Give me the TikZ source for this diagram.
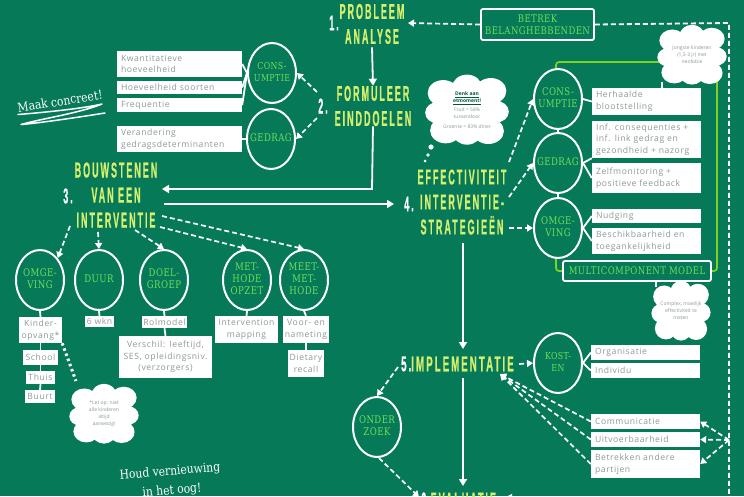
\documentclass[tikz,border=0pt]{standalone}
\usepackage{fontspec}
\usetikzlibrary{arrows.meta,shapes.geometric}
\setmainfont{Open Sans}
\newfontfamily\headf[FakeStretch=0.42,LetterSpace=9,FakeBold=0.6]{Liberation Sans Bold}
\newfontfamily\circf[FakeStretch=0.82,LetterSpace=4]{DejaVu Serif}
\newfontfamily\slabf[FakeStretch=0.86]{DejaVu Serif}
\newfontfamily\boxf[LetterSpace=7]{Open Sans}
\definecolor{bg}{HTML}{067A58}
\definecolor{lime}{HTML}{D4EE6E}
\definecolor{cgreen}{HTML}{6FDD5A}
\definecolor{boxtxt}{HTML}{8C9A96}
\definecolor{wire}{HTML}{7ED321}
\tikzset{x=1pt,y=-1pt,
 head/.style={text=lime,font=\headf\fontsize{21.5}{25}\selectfont,align=center,inner sep=0},
 numb/.style={text=white,font=\headf\fontsize{21.5}{25}\selectfont,inner sep=0},
 ring/.style={draw=white,line width=2pt,ellipse,fill=bg,text=cgreen,font=\circf\fontsize{10.5}{12.3}\selectfont,inner sep=0,minimum width=48pt,minimum height=60pt},
 bx/.style={fill=white,text=boxtxt,font=\boxf\fontsize{8.6}{11.6}\selectfont,inner xsep=4pt,inner ysep=0pt},
 frm/.style={draw=white,line width=1.8pt,rounded corners=2pt,fill=bg,text=cgreen,font=\circf\fontsize{10.4}{12.4}\selectfont,align=center,inner sep=0},
 link/.style={draw=white,line width=1.8pt},
 wireline/.style={draw=wire,line width=1.7pt,rounded corners=3pt},
 solidarr/.style={draw=white,line width=1.8pt,-{Triangle[length=7pt,width=8pt]}},
 dasharr/.style={draw=white,line width=1.7pt,dash pattern=on 5pt off 3pt,-{Triangle[length=6pt,width=7pt]}},
 dotline/.style={draw=white,line width=3pt,dash pattern=on 2.5pt off 3pt},
 cloudtxt/.style={text=boxtxt,font=\fontsize{5}{7}\selectfont,align=center,inner sep=0},
 slab/.style={text=white,font=\slabf\fontsize{12.5}{14}\selectfont,inner sep=0},
}
\newcommand{\smallring}{\fontsize{9.6}{12.3}\selectfont}
\newcommand{\ringnode}[4]{%
 \node[ring] (#1) at (#2,#3) {\makebox[0pt][c]{\begin{tabular}{@{}c@{}}#4\end{tabular}}};}
\newcommand{\boxnode}[6]{%
 \node[bx,align=left,text width={(#4-#2-8)*1pt},minimum height={(#5-#3)*1pt}] (#1) at ({(#2+#4)/2},{(#3+#5)/2}) {#6};}
\newcommand{\boxcnode}[6]{%
 \node[bx,inner xsep=0pt,align=center,text width={(#4-#2)*1pt},minimum height={(#5-#3)*1pt}] (#1) at ({(#2+#4)/2},{(#3+#5)/2}) {#6};}
\newcommand{\puff}[4]{%
 \fill[white,shift={(#1,#2)},xscale=#3,yscale=#4]
  (0,0) circle [radius=.8]
  (-.58,-.5) circle [radius=.38] (0,-.68) circle [radius=.36] (.58,-.56) circle [radius=.38]
  (-.7,.08) circle [radius=.32] (.7,.05) circle [radius=.32]
  (-.52,.6) circle [radius=.38] (0,.68) circle [radius=.34] (.52,.62) circle [radius=.38];}
\begin{document}
\begin{tikzpicture}
\useasboundingbox (0,0) rectangle (744,496);
\clip (0,0) rectangle (744,496);
\fill[bg] (0,0) rectangle (744,496);
% green wire behind everything
\coordinate (wa) at (556,72);
\coordinate (wb) at (556,62);
\coordinate (wc) at (660,62);
\coordinate (wd) at (717,75);
\coordinate (we) at (717,271);
\coordinate (wf) at (708,271);
\coordinate (wg) at (556,250);
\coordinate (wh) at (556,271);
\coordinate (wi) at (566,271);
\draw[wireline] (wa) -- (wb) -- (wc);
\draw[wireline] (wd) -- (we) -- (wf);
\draw[wireline] (wg) -- (wh) -- (wi);
% headings
\node[head] (t1) at (372,24) {PROBLEEM\\ANALYSE};
\node[numb] (n1) at (334,23) {1.};
\node[head] (t2) at (373,106) {FORMULEER\\EINDDOELEN};
\node[numb] (n2) at (323,106) {2.};
\node[head] (t3) at (116,195) {BOUWSTENEN\\VAN EEN\\INTERVENTIE};
\node[numb] (n3) at (68,196) {3.};
\node[head] (t4) at (462,202) {EFFECTIVITEIT\\INTERVENTIE-\\STRATEGIEËN};
\node[numb] (n4) at (409,204) {4.};
\node[head,anchor=west] (t5) at (401,364) {\scalebox{1.07}[1]{\textcolor{white}{5.}IMPLEMENTATIE}};
\node[head,anchor=west] (t6) at (421,500) {\textcolor{white}{6.}EVALUATIE};
% top left group
\boxnode{k1}{117}{51}{242}{77}{Kwantitatieve\\hoeveelheid}
\boxnode{k2}{117}{81}{242}{94}{Hoeveelheid soorten}
\boxnode{k3}{117}{98}{242}{112}{Frequentie}
\boxnode{k4}{117}{126}{242}{152}{Verandering\\gedragsdeterminanten}
\ringnode{ca}{272}{73}{\smallring CONS-\\\smallring UMPTIE}
\ringnode{cb}{271}{139}{GEDRAG}
\draw[link] (k1.east) -- (ca.west);
\draw[link] (k2.east) -- (ca.west);
\draw[link] (k3.east) -- (ca.west);
\draw[link] (k4.east) -- (cb.west);
\coordinate (d2a) at (317,92);
\coordinate (d2b) at (317,118);
\draw[dasharr] (d2a) -- (ca.east);
\draw[dasharr] (d2b) -- (cb.east);
% bottom-left circles
\ringnode{o1}{40}{280}{OMGE-\\VING}
\ringnode{o2}{99}{280}{DUUR}
\ringnode{o3}{164}{280}{DOEL-\\GROEP}
\ringnode{o4}{247}{280}{MET-\\HODE\\OPZET}
\ringnode{o5}{304}{280}{MEET-\\MET-\\HODE}
\boxcnode{b1}{19}{317}{62}{343}{Kinder-\\opvang*}
\boxcnode{b2}{23}{350}{58}{365}{School}
\boxcnode{b3}{26}{371}{55}{384}{Thuis}
\boxcnode{b4}{25}{390}{55}{403}{Buurt}
\boxcnode{b5}{85}{316}{114}{327}{6 wkn}
\boxcnode{b6}{142}{316}{187}{328}{Rolmodel}
\boxcnode{b7}{119}{336}{212}{378}{Verschil: leeftijd,\\SES, opleidingsniv.\\(verzorgers)}
\boxcnode{b8}{215}{316}{278}{343}{Intervention\\mapping}
\boxcnode{b9}{283}{316}{329}{343}{Voor- en\\nameting}
\boxcnode{b10}{288}{350}{324}{377}{Dietary\\recall}
\draw[link] (o1.south) -- (b1.north);
\draw[link] (b1.south) -- (b2.north);
\draw[link] (b2.south) -- (b3.north);
\draw[link] (b3.south) -- (b4.north);
\draw[link] (o2.south) -- (b5.north);
\draw[link] (o3.south) -- (b6.north);
\draw[link] (b6.south) -- (b7.north);
\draw[link] (o4.south) -- (b8.north);
\draw[link] (o5.south) -- (b9.north);
\draw[link] (b9.south) -- (b10.north);
% heading connectors
\coordinate (c2) at (372,189);
\coordinate (l3) at (162,189);
\coordinate (r3) at (164,204);
\coordinate (r4) at (394,204);
\coordinate (s3a) at (70,226);
\coordinate (s3b) at (98,232);
\coordinate (s3c) at (135,230);
\coordinate (s3d) at (162,216);
\coordinate (s3e) at (160,227);
\draw[solidarr] (t1.south) ++(0,3) -- (t2.north);
\draw[solidarr] (t2.south) -- (c2) -- (l3);
\draw[solidarr] (r3) -- (r4);
\draw[dasharr] (s3a) -- (o1.north east);
\draw[dasharr] (s3b) -- (o2.north);
\draw[dasharr] (s3c) -- (o3.north);
\draw[dasharr] (s3d) -- (o5.north);
\draw[dasharr] (s3e) -- (o4.north);
% right circles and boxes
\ringnode{ra}{558}{99}{CONS-\\UMPTIE}
\ringnode{rb}{558}{163}{GEDRAG}
\ringnode{rc}{558}{228}{OMGE-\\VING}
\ringnode{rd}{558}{363}{\smallring KOST-\\\smallring EN}
\boxnode{p1}{592}{88}{701}{115}{Herhaalde\\blootstelling}
\boxnode{p2}{592}{121}{701}{158}{Inf. consequenties +\\inf. link gedrag en\\gezondheid + nazorg}
\boxnode{p3}{592}{163}{701}{193}{Zelfmonitoring +\\positieve feedback}
\boxnode{p4}{592}{209}{701}{223}{Nudging}
\boxnode{p5}{592}{228}{701}{254}{Beschikbaarheid en\\toegankelijkheid}
\boxnode{q1}{591}{345}{700}{360}{Organisatie}
\boxnode{q2}{591}{363}{700}{378}{Individu}
\boxnode{q3}{591}{414}{700}{429}{Communicatie}
\boxnode{q4}{591}{432}{700}{447}{Uitvoerbaarheid}
\boxnode{q5}{591}{450}{700}{478}{Betrekken andere\\partijen}
\node[frm,minimum width=148pt,minimum height=20pt] (multi) at (637,271) {MULTICOMPONENT MODEL};
\node[frm,minimum width=113pt,minimum height=31pt] (betrek) at (537.5,24.5) {BETREK\\BELANGHEBBENDEN};
\draw[link] (ra.south) -- (rb.north);
\draw[link] (rb.south) -- (rc.north);
\draw[link] (ra.east) -- (p1.west);
\draw[link] (rb.east) -- (p2.south west);
\draw[link] (rb.east) -- (p3.west);
\draw[link] (rc.east) -- (p4.west);
\draw[link] (rc.east) -- (p5.west);
\draw[link] (rd.east) -- (q1.west);
\draw[link] (rd.east) -- (q2.west);
% vertical axis and dashed links
\coordinate (t4out) at (463,243);
\coordinate (t5in) at (463,349);
\coordinate (t5out) at (463,378);
\coordinate (t6in) at (463,486);
\draw[solidarr] (t4out) -- (t5in);
\draw[solidarr] (t5out) -- (t6in);
\coordinate (ea) at (509,162);
\coordinate (eb) at (509,197);
\coordinate (ec) at (509,228);
\draw[dasharr] (ea) -- (ra.west);
\draw[dasharr] (eb) -- (rb.west);
\draw[dasharr] (ec) -- (rc.west);
\coordinate (fa) at (519,364);
\draw[dasharr] (fa) -- (rd.west);
\ringnode{ond}{377}{427}{ONDER\\ZOEK}
\coordinate (ga) at (398,367);
\draw[dasharr] (ga) -- (ond.north);
\coordinate (gb) at (419,497);
\draw[dasharr] (ond.south) ++(2,0) -- (gb);
\coordinate (gc) at (520,498);
\coordinate (gd) at (506,497);
\draw[dasharr] (gc) -- (gd);
\coordinate (imp) at (500,374);
\draw[dasharr] (q3.west) -- (imp);
\draw[dasharr] (q4.west) -- (imp);
\draw[dasharr] (q5.west) -- (imp);
\coordinate (topl) at (408,23);
\coordinate (topr) at (729,23);
\coordinate (botr) at (729,496);
\coordinate (mid) at (729,440);
\draw[dasharr] (betrek.west) -- (topl);
\draw[link,dash pattern=on 5pt off 3pt] (betrek.east) -- (topr) -- (botr);
\draw[dasharr] (mid) -- (q3.east);
\draw[dasharr] (mid) -- (q4.east);
\draw[dasharr] (mid) -- (q5.east);
% clouds
\puff{467}{110}{41}{34}
\node[cloudtxt] (cl1) at (467,110) {\textcolor{bg!70!black}{\textbf{\underline{Denk aan}}}\\\textcolor{bg!70!black}{\textbf{\underline{etmoment!}}}\\[2pt]Fruit = 58\%\\tussendoor\\[3pt]Groente = 83\% diner};
\puff{692}{55}{34}{29}
\node[cloudtxt] (cl2) at (692,55) {Jongste kinderen\\(1,5-3 jr) met\\neofobie};
\puff{681}{311}{29}{29}
\node[cloudtxt] (cl3) at (681,311) {Complex, moeilijk\\effectiviteit te\\meten};
\puff{104}{414}{34}{29}
\node[cloudtxt] (cl4) at (104,414) {*Let op: niet\\alle kinderen\\altijd\\aanwezig!};
\fill[white] (431,147) circle [radius=2.6] (428,155) circle [radius=1.8] (425,161) circle [radius=1.5];
\coordinate (cl2s) at (662,82);
\coordinate (cl2e) at (662,88);
\draw[link] (cl2s) -- (cl2e);
\coordinate (cl3n) at (656,287);
\draw[link] (cl3n) -- (multi.south -| cl3n);
\coordinate (dot) at (76,381);
\draw[dotline] (b1.south east) -- (dot);
% free notes
\node[slab,rotate=9] (mk) at (60,101) {Maak concreet!};
\draw[white,line width=1.5pt,line cap=round,line join=round] (18,114.5) .. controls (50,112) and (85,108) .. (102,104) .. controls (80,113) and (40,119) .. (21,124.5) .. controls (40,123) and (80,117) .. (105,113);
\node[slab,rotate=5] (hv) at (170,472) {Houd vernieuwing};
\node[slab,rotate=5] (hw) at (172,491) {in het oog!};
\end{tikzpicture}
\end{document}
